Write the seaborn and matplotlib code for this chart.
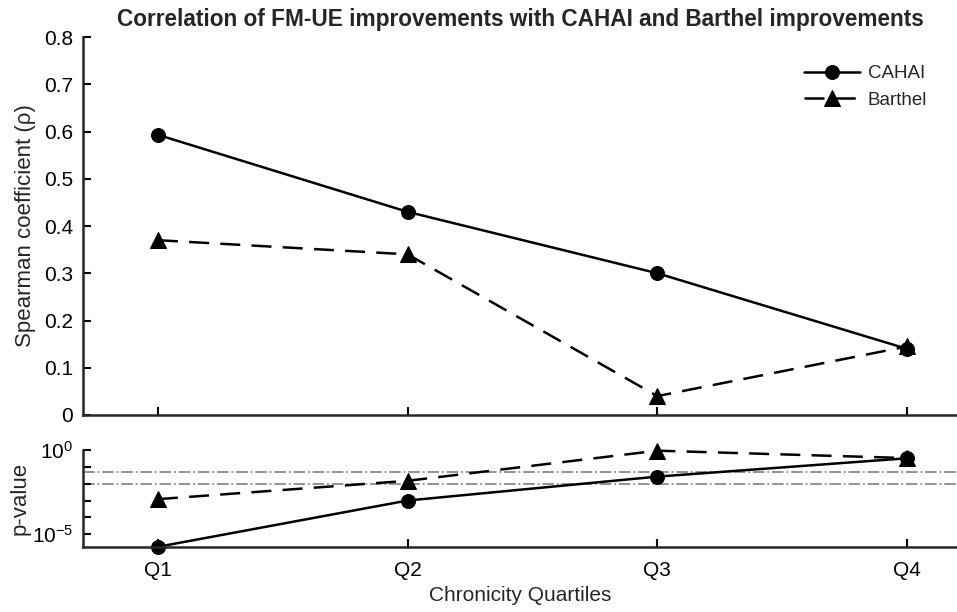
import numpy as np
import pandas as pd
import matplotlib
matplotlib.use('Agg')
import matplotlib.pyplot as plt
import matplotlib.ticker as mticker
import seaborn as sns

# data
quartiles = ['Q1', 'Q2', 'Q3', 'Q4']
rho_cahai = [0.593, 0.43, 0.30, 0.14]
rho_barthel = [0.37, 0.34, 0.04, 0.145]
logp_cahai = [-5.75, -3.0, -1.58, -0.49]
logp_barthel = [-2.92, -1.83, -0.04, -0.48]
thresholds = [0.05, 0.01]

sns.set_theme(style='ticks')
plt.rcParams['font.family'] = ['Liberation Sans', 'DejaVu Sans']
plt.rcParams['mathtext.default'] = 'regular'

df = pd.DataFrame({
    'quartile': quartiles * 2,
    'measure': ['CAHAI'] * 4 + ['Barthel'] * 4,
    'rho': rho_cahai + rho_barthel,
    'p': list(10 ** np.array(logp_cahai)) + list(10 ** np.array(logp_barthel)),
})

fig = plt.figure(figsize=(9.57, 6.12), dpi=100)
ax1 = fig.add_axes([0.0867, 0.3219, 0.9133, 0.6176])
ax2 = fig.add_axes([0.0867, 0.1057, 0.9133, 0.159])

markers = {'CAHAI': 'o', 'Barthel': '^'}
dashes = {'CAHAI': '', 'Barthel': (8, 4.5)}

for ax, col in [(ax1, 'rho'), (ax2, 'p')]:
    sns.lineplot(data=df, x='quartile', y=col, style='measure',
                 markers=markers, dashes=dashes, color='black',
                 linewidth=1.8, markersize=10, markeredgecolor='black',
                 legend=(ax is ax1), ax=ax, clip_on=False)
    ax.set_xlim(-0.3, 3.2)
    sns.despine(ax=ax)
    for s in ['left', 'bottom']:
        ax.spines[s].set_linewidth(1.8)
    ax.tick_params(direction='in', length=6, width=1.5, labelsize=15,
                   colors='black', pad=7)
ax2.tick_params(axis='x', pad=10)

# triangles a bit larger
for line in ax1.lines + ax2.lines:
    if line.get_marker() == '^':
        line.set_markersize(11)

# top panel
ax1.set_ylim(0, 0.8)
ax1.set_yticks(np.arange(0, 0.81, 0.1))
ax1.yaxis.set_major_formatter(mticker.FuncFormatter(
    lambda v, pos: '0' if abs(v) < 1e-9 else f'{v:.1f}'))
ax1.set_xticklabels([])
ax1.set_xlabel('')
ax1.set_ylabel('Spearman coefficient (ρ)', fontsize=16, labelpad=6)
ax1.set_title('Correlation of FM-UE improvements with CAHAI and Barthel improvements',
              fontsize=16.3, fontweight='bold', pad=8)
leg = ax1.legend(frameon=False, loc='upper right', bbox_to_anchor=(0.985, 0.97),
                 fontsize=13.5, handlelength=3.0, handletextpad=0.4,
                 labelspacing=0.5)
for h in leg.legend_handles:
    h.set_color('black')
    h.set_markeredgecolor('black')

# bottom panel (log p-values)
ax2.set_yscale('log')
ax2.set_ylim(10 ** -5.78, 1)
for t in thresholds:
    ax2.axhline(t, color='#8a8a8a', linestyle='-.', linewidth=1.3, zorder=0)
ax2.yaxis.set_major_locator(mticker.FixedLocator([10.0 ** k for k in range(-5, 1)]))
ax2.yaxis.set_minor_locator(mticker.NullLocator())
ax2.yaxis.set_major_formatter(mticker.FuncFormatter(
    lambda v, pos: r'$10^{%d}$' % round(np.log10(v)) if round(np.log10(v)) in (0, -5) else ''))
ax2.set_ylabel('p-value', fontsize=16, labelpad=1)
ax2.set_xlabel('Chronicity Quartiles', fontsize=15, labelpad=4)

fig.savefig('out.png', dpi=100)
